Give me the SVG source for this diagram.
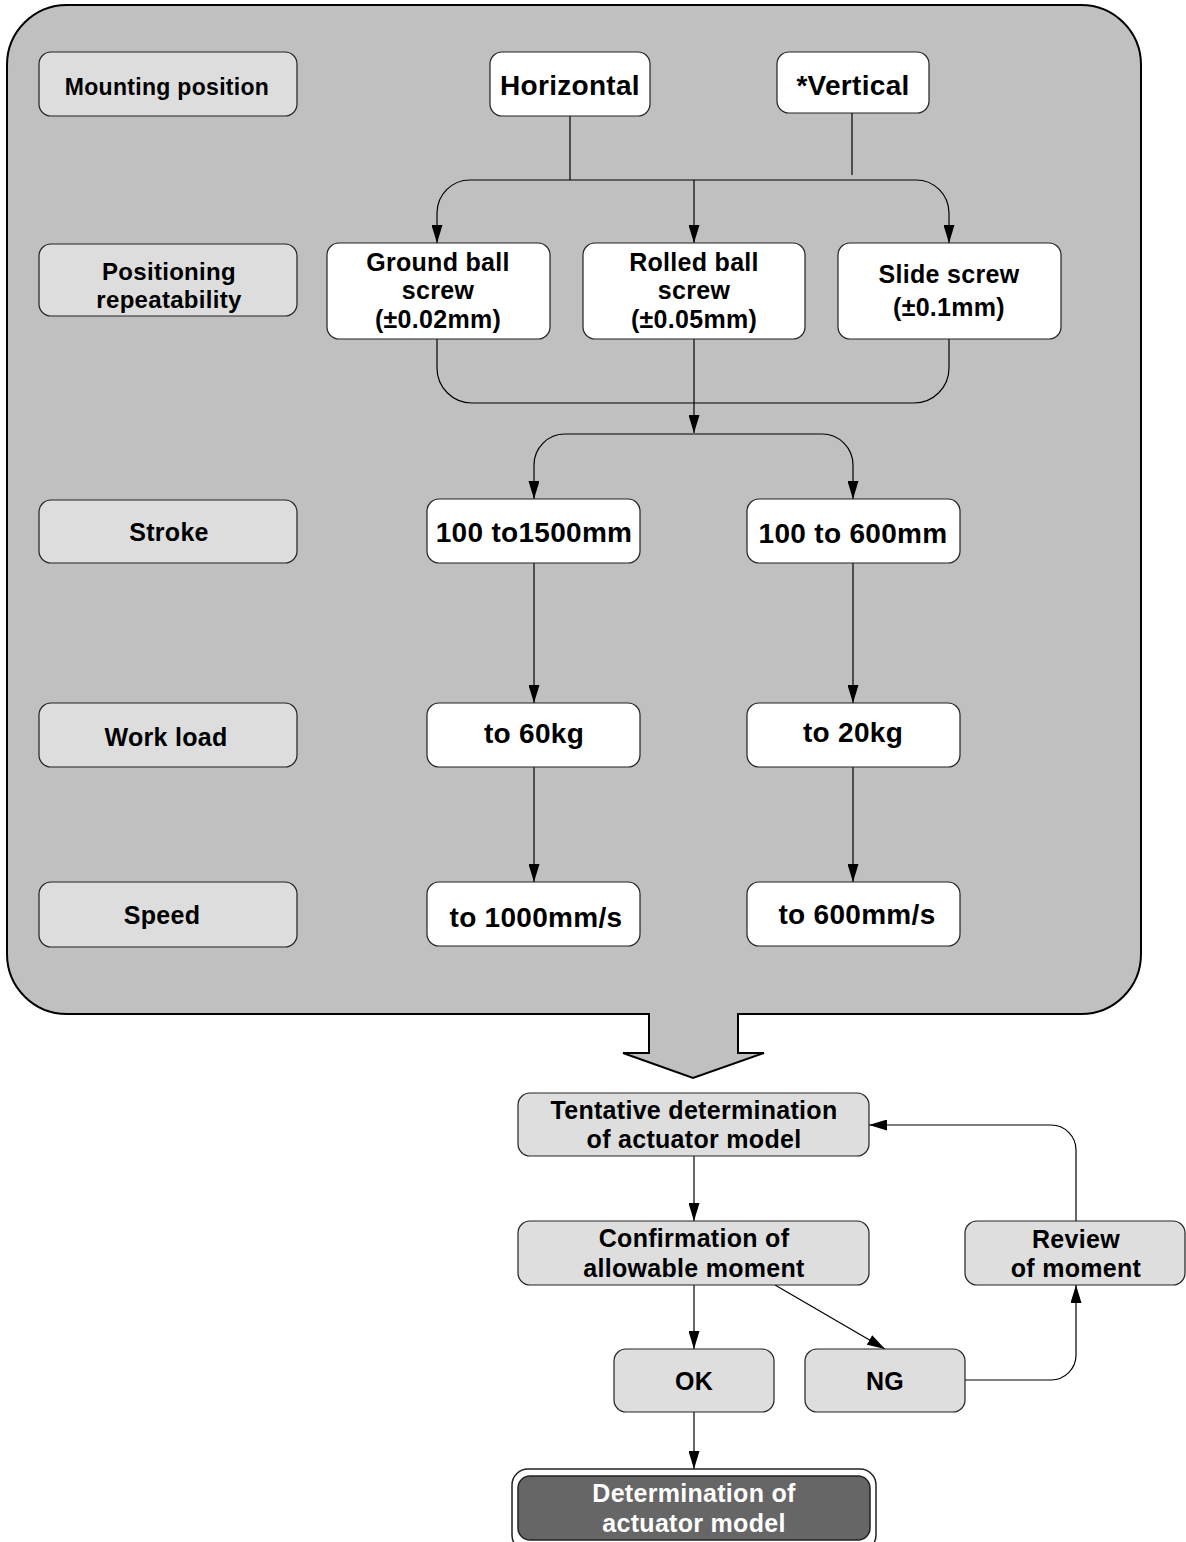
<svg xmlns="http://www.w3.org/2000/svg" width="1186" height="1542" viewBox="0 0 1186 1542">
<style>
.bg{fill:#c0c0c0;stroke:#000;stroke-width:2}
.lbl{fill:#dddddd;stroke:#222;stroke-width:1.2}
.w{fill:#fff;stroke:#222;stroke-width:1.2}
.g{fill:#dedede;stroke:#222;stroke-width:1.2}
.dk{fill:#666;stroke:#222;stroke-width:1.5}
.ob{fill:#fff;stroke:#222;stroke-width:1.5}
.t{font-family:"Liberation Sans",Arial,sans-serif;font-weight:bold;font-size:25px;text-anchor:middle;fill:#000;letter-spacing:0.3px}
.big{font-size:28px}
.wt{fill:#fff}
.wire{fill:none;stroke:#000;stroke-width:1.2}
</style>
<defs>
<marker id="ah" markerUnits="userSpaceOnUse" markerWidth="18" markerHeight="11" refX="18" refY="5.5" orient="auto">
<path d="M0,0 L18,5.5 L0,11 Z" fill="#000"/>
</marker>
</defs>
<g id="container">
<path class="bg" d="M67,5 H1081 A60,60 0 0 1 1141,65 V954 A60,60 0 0 1 1081,1014 H738 V1053 H764 L693,1078 L623,1053 H649 V1014 H67 A60,60 0 0 1 7,954 V65 A60,60 0 0 1 67,5 Z"/>
</g>
<g id="connectors">
<path class="wire" d="M570,116 V180"/>
<path class="wire" d="M852,113 V175"/>
<path class="wire" d="M694,180 H470 A33,33 0 0 0 437,213 V243" marker-end="url(#ah)"/>
<path class="wire" d="M694,180 H916 A33,33 0 0 1 949,213 V243" marker-end="url(#ah)"/>
<path class="wire" d="M694,180 V243" marker-end="url(#ah)"/>
<path class="wire" d="M437,339 V368 A35,35 0 0 0 472,403 H914 A35,35 0 0 0 949,368 V339"/>
<path class="wire" d="M694,339 V433" marker-end="url(#ah)"/>
<path class="wire" d="M694,434 H565 A31,31 0 0 0 534,465 V499" marker-end="url(#ah)"/>
<path class="wire" d="M694,434 H822 A31,31 0 0 1 853,465 V499" marker-end="url(#ah)"/>
<path class="wire" d="M534,563 V703" marker-end="url(#ah)"/>
<path class="wire" d="M534,767 V882" marker-end="url(#ah)"/>
<path class="wire" d="M853,563 V703" marker-end="url(#ah)"/>
<path class="wire" d="M853,767 V882" marker-end="url(#ah)"/>
<path class="wire" d="M694,1156 V1221" marker-end="url(#ah)"/>
<path class="wire" d="M694,1285 V1349" marker-end="url(#ah)"/>
<path class="wire" d="M775,1285 L885,1349" marker-end="url(#ah)"/>
<path class="wire" d="M694,1412 V1469" marker-end="url(#ah)"/>
<path class="wire" d="M965,1380 H1051 A25,25 0 0 0 1076,1355 V1285" marker-end="url(#ah)"/>
<path class="wire" d="M1076,1221 V1150 A25,25 0 0 0 1051,1125 H869" marker-end="url(#ah)"/>
</g>
<g id="lbl-mounting"><rect class="lbl" x="39" y="52" width="258" height="64" rx="12"/><text class="t" x="167" y="95" style="font-size:23px">Mounting position</text></g>
<g id="lbl-positioning"><rect class="lbl" x="39" y="244" width="258" height="72" rx="12"/><text class="t" x="169" y="280" style="font-size:24px">Positioning</text><text class="t" x="169" y="308" style="font-size:24px">repeatability</text></g>
<g id="lbl-stroke"><rect class="lbl" x="39" y="500" width="258" height="63" rx="12"/><text class="t" x="169" y="541">Stroke</text></g>
<g id="lbl-workload"><rect class="lbl" x="39" y="703" width="258" height="64" rx="12"/><text class="t" x="166" y="746">Work load</text></g>
<g id="lbl-speed"><rect class="lbl" x="39" y="882" width="258" height="65" rx="12"/><text class="t" x="162" y="924">Speed</text></g>
<g id="n-horizontal"><rect class="w" x="490" y="52" width="160" height="64" rx="12"/><text class="t big" x="570" y="95">Horizontal</text></g>
<g id="n-vertical"><rect class="w" x="777" y="52" width="152" height="61" rx="12"/><text class="t big" x="853" y="95">*Vertical</text></g>
<g id="n-ground"><rect class="w" x="327" y="243" width="223" height="96" rx="12"/><text class="t" x="438" y="271">Ground ball</text><text class="t" x="438" y="299">screw</text><text class="t" x="438" y="328">(±0.02mm)</text></g>
<g id="n-rolled"><rect class="w" x="583" y="243" width="222" height="96" rx="12"/><text class="t" x="694" y="271">Rolled ball</text><text class="t" x="694" y="299">screw</text><text class="t" x="694" y="328">(±0.05mm)</text></g>
<g id="n-slide"><rect class="w" x="838" y="243" width="223" height="96" rx="12"/><text class="t" x="949" y="283">Slide screw</text><text class="t" x="949" y="316">(±0.1mm)</text></g>
<g id="n-stroke1"><rect class="w" x="427" y="499" width="213" height="64" rx="12"/><text class="t big" x="534" y="542">100 to1500mm</text></g>
<g id="n-stroke2"><rect class="w" x="747" y="499" width="213" height="64" rx="12"/><text class="t big" x="853" y="543">100 to 600mm</text></g>
<g id="n-load1"><rect class="w" x="427" y="703" width="213" height="64" rx="12"/><text class="t big" x="534" y="743">to 60kg</text></g>
<g id="n-load2"><rect class="w" x="747" y="703" width="213" height="64" rx="12"/><text class="t big" x="853" y="742">to 20kg</text></g>
<g id="n-speed1"><rect class="w" x="427" y="882" width="213" height="64" rx="12"/><text class="t big" x="536" y="927">to 1000mm/s</text></g>
<g id="n-speed2"><rect class="w" x="747" y="882" width="213" height="64" rx="12"/><text class="t big" x="857" y="924">to 600mm/s</text></g>
<g id="n-tentative"><rect class="g" x="518" y="1093" width="351" height="63" rx="12"/><text class="t" x="694" y="1119">Tentative determination</text><text class="t" x="694" y="1148">of actuator model</text></g>
<g id="n-confirm"><rect class="g" x="518" y="1221" width="351" height="64" rx="12"/><text class="t" x="694" y="1247">Confirmation of</text><text class="t" x="694" y="1277">allowable moment</text></g>
<g id="n-review"><rect class="g" x="965" y="1221" width="220" height="64" rx="12"/><text class="t" x="1076" y="1248">Review</text><text class="t" x="1076" y="1277">of moment</text></g>
<g id="n-ok"><rect class="g" x="614" y="1349" width="160" height="63" rx="12"/><text class="t" x="694" y="1390">OK</text></g>
<g id="n-ng"><rect class="g" x="805" y="1349" width="160" height="63" rx="12"/><text class="t" x="885" y="1390">NG</text></g>
<g id="n-determination"><rect class="ob" x="512" y="1469" width="364" height="82" rx="16"/><rect class="dk" x="518" y="1476" width="352" height="64" rx="12"/><text class="t wt" x="694" y="1502">Determination of</text><text class="t wt" x="694" y="1532">actuator model</text></g>
</svg>
